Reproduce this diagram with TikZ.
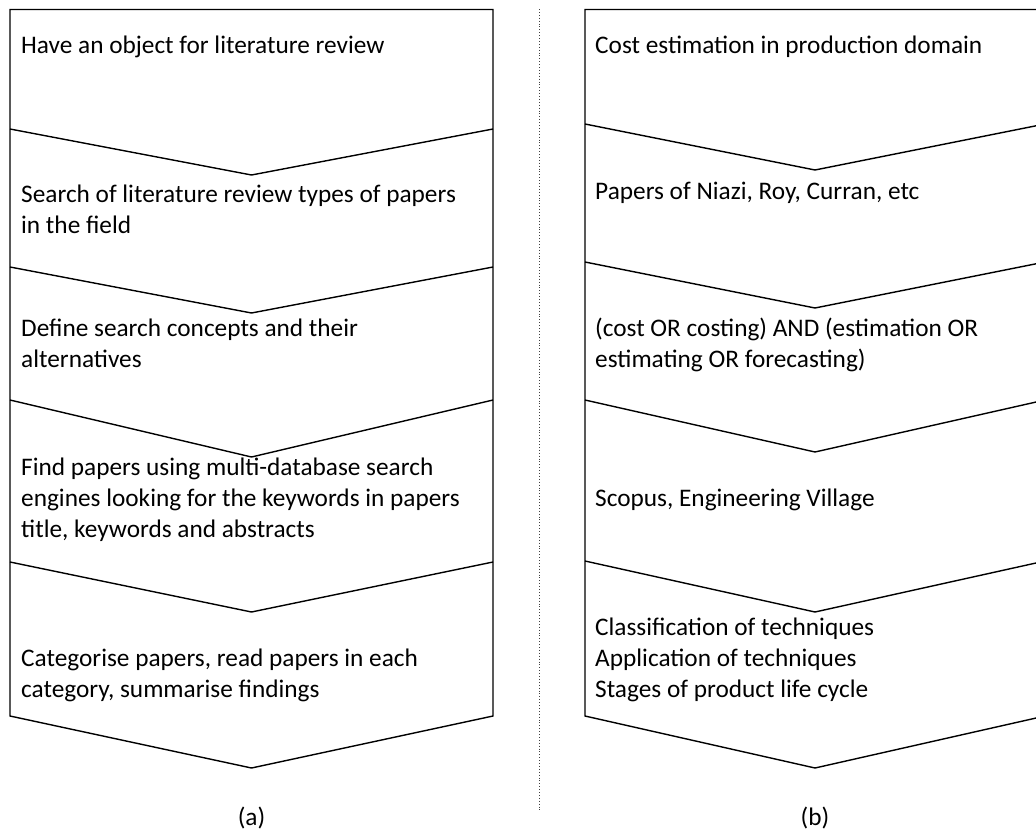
\documentclass[tikz,border=0pt]{standalone}
\usepackage{fontspec}
\setmainfont{Carlito}
\begin{document}
\begin{tikzpicture}[x=1pt,y=-1pt,
  edge/.style={line width=1.4pt, line join=miter},
  % multi-line nodes: the base anchor sits on the last line
  txt/.style={anchor=base west, inner sep=0pt, align=left,
    font=\fontsize{25.3}{30.8}\selectfont},
  caption/.style={anchor=base, inner sep=0pt,
    font=\fontsize{25.3}{30.8}\selectfont},
  sep/.style={dotted, line width=0.9pt, black!75}]
\clip (0,0) rectangle (1036,835);

% ---- process (a) ----
\draw[edge] (10,9.5) -- (493,9.5) -- (493,716) -- (251.5,768) -- (10,716) -- cycle;
\draw[edge] (10,129) -- (251.5,175) -- (493,129);
\draw[edge] (10,267) -- (251.5,313) -- (493,267);
\draw[edge] (10,400) -- (251.5,457) -- (493,400);
\draw[edge] (10,562) -- (251.5,612) -- (493,562);

\node[txt] (a1) at (21,53) {Have an object for literature review};
\node[txt] (a2) at (21,233) {Search of literature review types of papers\\in the field};
\node[txt] (a3) at (21,367) {Define search concepts and their\\alternatives};
\node[txt] (a4) at (21,537) {Find papers using multi-database search\\engines looking for the keywords in papers\\title, keywords and abstracts};
\node[txt] (a5) at (21,697) {Categorise papers, read papers in each\\category, summarise findings};
\node[caption] (capa) at (251.5,825) {(a)};

% ---- separator ----
\coordinate (sepTop) at (539,9);
\coordinate (sepBot) at (539,812);
\draw[sep] (sepTop) -- (sepBot);

% ---- process (b) ----
\draw[edge] (585,716) -- (585,9.5) -- (1045,9.5) -- (1045,716) -- (815,768) -- cycle;
\draw[edge] (585,124) -- (815,170) -- (1045,124);
\draw[edge] (585,262) -- (815,308) -- (1045,262);
\draw[edge] (585,400) -- (815,452) -- (1045,400);
\draw[edge] (585,561) -- (815,612) -- (1045,561);

\node[txt] (b1) at (595,53) {Cost estimation in production domain};
\node[txt] (b2) at (595,199) {Papers of Niazi, Roy, Curran, etc};
\node[txt] (b3) at (595,367) {(cost OR costing) AND (estimation OR\\estimating OR forecasting)};
\node[txt] (b4) at (595,506) {Scopus, Engineering Village};
\node[txt] (b5) at (595,697) {Classification of techniques\\Application of techniques\\Stages of product life cycle};
\node[caption] (capb) at (815,825) {(b)};
\end{tikzpicture}
\end{document}
